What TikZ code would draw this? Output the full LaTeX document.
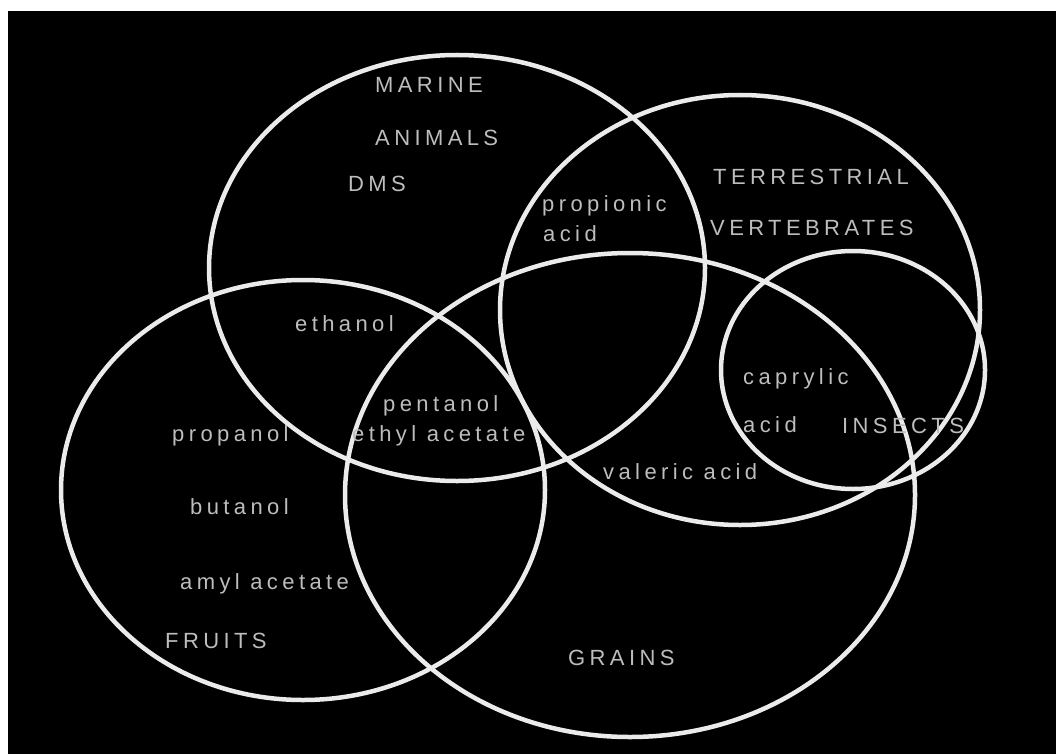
\documentclass[tikz,border=0pt]{standalone}
\usepackage{fontspec}
\newfontfamily\vennfont[LetterSpace=20]{Liberation Sans}
\usetikzlibrary{positioning}
\tikzset{
  vennset/.style={draw=white!92!black, line width=4.5pt},
  odour/.style={text=white!74!black, font=\vennfont\fontsize{22}{26}\selectfont, anchor=base west, inner sep=0pt},
  setlabel/.style={odour}
}

\begin{document}
\begin{tikzpicture}[x=1pt, y=-1pt]
  \useasboundingbox (0,0) rectangle (1056,754);
  \fill[white] (0,0) rectangle (1056,754);
  \fill[black] (8,11) rectangle (1056,754);

  % the five sets
  \coordinate (cmarine) at (457,268);
  \coordinate (cterr) at (740,310);
  \coordinate (cinsects) at (853,370);
  \coordinate (cfruits) at (303,490);
  \coordinate (cgrains) at (630,495);
  \draw[vennset] (cmarine) ellipse [x radius=248pt, y radius=213pt];
  \draw[vennset] (cterr) ellipse [x radius=240pt, y radius=215pt];
  \draw[vennset] (cinsects) ellipse [x radius=132pt, y radius=119pt];
  \draw[vennset] (cfruits) ellipse [x radius=242pt, y radius=210pt];
  \draw[vennset] (cgrains) ellipse [x radius=285pt, y radius=242pt];

  % set names
  \node[setlabel] (marine) at (375,93) {MARINE};
  \node[setlabel] (animals) at (375,146) {ANIMALS};
  \node[setlabel] (terr) at (713,185) {TERRESTRIAL};
  \node[setlabel] (vert) at (710,235) {VERTEBRATES};
  \node[setlabel] (insects) at (842,433) {INSECTS};
  \node[setlabel] (fruits) at (165,648) {FRUITS};
  \node[setlabel] (grains) at (568,665) {GRAINS};

  % odours
  \node[odour] (dms) at (348,191) {DMS};
  \node[odour] (propionic) at (542,211) {propionic};
  \node[odour] (propacid) at (543,241) {acid};
  \node[odour] (ethanol) at (295,331) {ethanol};
  \node[odour] (pentanol) at (383,411) {pentanol};
  \node[odour] (ethylac) at (352,441) {ethyl acetate};
  \node[odour] (propanol) at (172,441) {propanol};
  \node[odour] (caprylic) at (743,384) {caprylic};
  \node[odour] (capacid) at (743,432) {acid};
  \node[odour] (valeric) at (603,479) {valeric acid};
  \node[odour] (butanol) at (190,514) {butanol};
  \node[odour] (amyl) at (180,589) {amyl acetate};
\end{tikzpicture}
\end{document}
